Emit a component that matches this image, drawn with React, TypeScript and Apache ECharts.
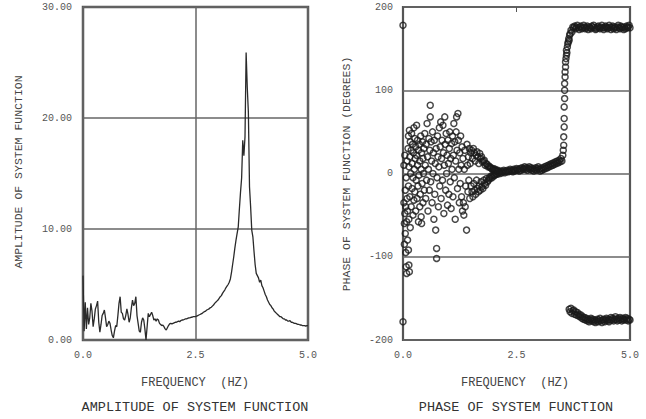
import React, { useEffect, useRef } from "react";
import * as echarts from "echarts";

// ---------- DATA ----------
const xTicks = ["0.0", "2.5", "5.0"];

// Amplitude of system function, sampled every 0.025 Hz from 0 to 5 Hz
const ampStartHz = 0;
const ampStepHz = 0.025;
const amplitude: number[] = [
  5.8, 0.8, 3.4, 1.0, 2.9, 1.4, 2.0, 3.3, 2.6, 1.2,
  1.9, 2.8, 3.1, 3.5, 1.6, 0.7, 1.4, 2.2, 2.4, 2.7,
  2.0, 1.2, 1.4, 1.7, 1.5, 0.9, 0.4, 0.2, 0.8, 1.3,
  1.2, 2.2, 3.3, 3.9, 2.5, 2.4, 1.9, 1.8, 2.2, 2.8,
  2.3, 1.6, 2.0, 2.9, 3.6, 3.1, 3.3, 3.9, 2.2, 1.5,
  0.8, 0.7, 1.6, 2.0, 1.8, 1.0, 0.0, 1.2, 2.4, 2.1,
  2.3, 2.5, 2.2, 1.8, 1.9, 1.7, 1.9, 1.8, 1.5, 1.4,
  1.3, 1.35, 1.2, 1.0, 0.9, 1.1, 1.3, 1.45, 1.5, 1.45,
  1.5, 1.55, 1.6, 1.6, 1.65, 1.7, 1.65, 1.75, 1.8, 1.8,
  1.85, 1.9, 1.9, 1.95, 2.0, 2.0, 2.05, 2.05, 2.1, 2.1,
  2.1, 2.15, 2.2, 2.25, 2.3, 2.35, 2.4, 2.5, 2.55, 2.6,
  2.7, 2.75, 2.8, 2.9, 2.95, 3.05, 3.15, 3.3, 3.4, 3.5,
  3.6, 3.75, 3.9, 4.0, 4.2, 4.35, 4.5, 4.7, 4.85, 5.0,
  5.2, 5.5, 6.1, 6.8, 7.5, 8.3, 9.0, 9.6, 10.2, 11.8,
  13.3, 14.6, 18.0, 16.6, 18.3, 25.9, 22.8, 20.5, 13.8, 12.0,
  9.9, 9.3, 8.0, 6.8, 6.0, 5.8, 5.6, 5.2, 5.4, 4.9,
  4.7, 4.4, 4.1, 3.9, 3.6, 3.4, 3.2, 3.1, 2.9, 2.8,
  2.6, 2.5, 2.4, 2.3, 2.2, 2.1, 2.1, 2.0, 1.9, 1.9,
  1.8, 1.8, 1.7, 1.7, 1.75, 1.6, 1.6, 1.55, 1.5, 1.5,
  1.45, 1.4, 1.4, 1.35, 1.35, 1.3, 1.3, 1.3, 1.25, 1.3,
  1.3,
];

// Phase (degrees): scattered low-frequency region, [Hz, deg]
const phaseNoisy: [number, number][] = [
  [0.0, 178], [0.0, -178],
  [0.02, -35], [0.02, 10], [0.03, -60], [0.03, -85], [0.04, -48], [0.04, 22], [0.05, -72], [0.05, -20],
  [0.06, -95], [0.06, -40], [0.07, -112], [0.07, -5], [0.08, -120], [0.08, -58], [0.09, -30], [0.09, 15],
  [0.1, -80], [0.1, -45], [0.12, -92], [0.13, -110], [0.14, -118],
  [0.11, 30], [0.12, -15], [0.12, 45], [0.13, -55], [0.13, 8], [0.14, 52], [0.15, -28], [0.15, 20],
  [0.16, -65], [0.16, 38], [0.17, 0], [0.18, -40], [0.18, 28], [0.19, 48], [0.2, -18], [0.2, 12],
  [0.21, 35], [0.22, -50], [0.22, -5], [0.23, 25], [0.24, 55], [0.24, -32], [0.25, 5], [0.26, 42],
  [0.26, -22], [0.27, 18], [0.28, -45], [0.28, 32], [0.29, -8], [0.3, 58], [0.3, 22], [0.31, -30],
  [0.32, 10], [0.32, 40], [0.33, -15], [0.34, -58], [0.34, 28], [0.35, -2], [0.36, 35], [0.37, -40],
  [0.37, 15], [0.38, -25], [0.39, 45], [0.4, 5], [0.4, -52], [0.41, -60], [0.41, 25], [0.42, -12],
  [0.43, 38], [0.44, -35], [0.44, 18], [0.45, 0], [0.46, 30], [0.47, -20], [0.48, 48], [0.49, 10],
  [0.5, -30], [0.51, 35], [0.52, -8], [0.53, 60], [0.54, 20], [0.55, -45], [0.56, 5], [0.57, 42],
  [0.58, -20], [0.59, 28], [0.6, 82], [0.6, 68], [0.61, -10], [0.62, 38], [0.63, 15], [0.64, -35],
  [0.65, 50], [0.66, 0], [0.67, 25], [0.68, -55], [0.69, 40], [0.7, -25], [0.71, 12], [0.72, -68],
  [0.73, 30], [0.74, -90], [0.74, -102], [0.75, -5], [0.76, 45], [0.77, 20], [0.78, -40], [0.79, 8],
  [0.8, 55], [0.81, -15], [0.82, 32], [0.83, 62], [0.84, -30], [0.85, 18], [0.86, 40], [0.87, -8],
  [0.88, 58], [0.89, 25], [0.9, -48], [0.91, 10], [0.92, 68], [0.93, 35], [0.94, -20], [0.95, 48],
  [0.96, 0], [0.97, 22], [0.98, -38], [0.99, 40], [1.0, 12], [1.01, -25], [1.02, 30], [1.03, 50],
  [1.04, -10], [1.05, 18], [1.06, -42], [1.07, 36], [1.08, 5], [1.09, 45], [1.1, -28], [1.11, 22],
  [1.12, 60], [1.13, -5], [1.14, 38], [1.15, -55], [1.16, 15], [1.17, 50], [1.18, 68], [1.19, 28],
  [1.2, -18], [1.21, 72], [1.22, 40], [1.23, 5], [1.24, -35], [1.25, 25], [1.26, -12], [1.27, 45],
  [1.28, 10], [1.29, -28], [1.3, 32], [1.31, -45], [1.32, 18], [1.33, -35], [1.34, -50], [1.35, 5],
  [1.36, 28], [1.37, -40], [1.38, -15], [1.4, -68], [1.41, 35], [1.42, 10], [1.43, -22], [1.44, 20],
  [1.45, -8], [1.46, 30], [1.47, -30], [1.48, 12], [1.49, 25], [1.5, -15],
];

// Phase: settling oscillation, every 0.01 Hz from 1.51 Hz
const settleStartHz = 1.51;
const settleStepHz = 0.01;
const phaseSettle: number[] = [
  28, -22, 18, -28, 30, -12, 25, -20, 15, -25,
  22, -8, 26, -18, 20, -22, 12, -15, 24, -20,
  18, -10, 20, -16, 14, -18, 15, -8, 16, -12,
  10, -14, 12, -6, 11, -10, 8, -8, 9, -5,
  8, -6, 7, -3, 6, -5, 5, -2, 6, -3,
  4, -2, 5, -1, 4, 0, 3, -1, 4, 1,
];

// Phase: slowly rising flat part, every 0.02 Hz from 2.12 Hz
const flatStartHz = 2.12;
const flatStepHz = 0.02;
const phaseFlat: number[] = [
  2, 0, 3, 1, 2, 4, 1, 3, 2, 4,
  2, 3, 5, 3, 4, 2, 5, 3, 4, 6,
  4, 5, 3, 6, 4, 7, 5, 6, 8, 5,
  7, 4, 6, 8, 5, 7, 4, 6, 3, 5,
  7, 4, 6, 8, 5, 3, 6, 4, 7, 5,
  8, 6, 9, 7, 10, 8, 11, 9, 12, 10,
  13, 11, 14, 12, 15, 13, 16, 14, 18, 15,
];

// Phase: jump through resonance, [Hz, deg]
const phaseJump: [number, number][] = [
  [3.52, 22], [3.53, 28], [3.54, 34], [3.54, 44], [3.55, 56], [3.55, 66], [3.55, 80], [3.56, 90],
  [3.56, 100], [3.56, 108], [3.57, 116], [3.57, 122], [3.58, 128], [3.58, 134], [3.59, 138],
  [3.6, 142], [3.6, 148], [3.61, 145], [3.62, 152], [3.63, 156], [3.64, 158], [3.65, 162],
  [3.66, 160], [3.67, 166], [3.68, 168], [3.7, 172], [3.72, 170],
];

// Phase above resonance, upper branch, every 0.02 Hz from 3.74 Hz
const upperStartHz = 3.74;
const upperStepHz = 0.02;
const phaseUpper: number[] = [
  176, 175, 177, 174, 176, 178, 175, 173, 176, 177,
  174, 175, 178, 176, 174, 175, 177, 173, 176, 175,
  174, 177, 176, 178, 175, 173, 174, 176, 177, 175,
  174, 176, 178, 175, 173, 175, 177, 176, 174, 175,
  178, 176, 173, 175, 177, 174, 176, 175, 173, 176,
  178, 175, 174, 177, 176, 175, 173, 176, 174, 177,
  175, 176, 178, 175,
];

// Phase above resonance, lower branch, every 0.02 Hz from 3.66 Hz
const lowerStartHz = 3.66;
const lowerStepHz = 0.02;
const phaseLower: number[] = [
  -163, -166, -162, -168, -165, -164, -169, -166, -170, -167,
  -171, -169, -172, -170, -174, -172, -175, -173, -176, -174,
  -177, -175, -178, -176, -174, -177, -175, -178, -176, -179,
  -177, -175, -178, -176, -174, -177, -179, -176, -175, -178,
  -176, -174, -177, -175, -178, -176, -173, -176, -174, -177,
  -175, -172, -175, -177, -174, -176, -173, -175, -177, -174,
  -176, -175, -173, -176, -174, -177, -175, -176,
];

const ampTicks = ["0.00", "10.00", "20.00", "30.00"];
const phaseTicks = ["-200", "-100", "0", "100", "200"];

// ---------- helpers ----------
const onGrid = (start: number, step: number, vals: number[]) =>
  vals.map((v, i) => [+(start + i * step).toFixed(4), v]);

const MONO = "'Liberation Mono', 'DejaVu Sans Mono', monospace";

export default function App() {
  const ref = useRef<HTMLDivElement>(null);

  useEffect(() => {
    if (!ref.current) return;
    const chart = echarts.init(ref.current, undefined, { renderer: "svg" });

    const ampData = onGrid(ampStartHz, ampStepHz, amplitude);
    const phaseData = [
      ...phaseNoisy,
      ...onGrid(settleStartHz, settleStepHz, phaseSettle),
      ...onGrid(flatStartHz, flatStepHz, phaseFlat),
      ...phaseJump,
      ...onGrid(upperStartHz, upperStepHz, phaseUpper),
      ...onGrid(lowerStartHz, lowerStepHz, phaseLower),
    ];

    const tickLabel = { color: "#555", fontFamily: MONO, fontSize: 10 };
    const gridLine = { show: true, lineStyle: { color: "#666", width: 1.5 } };

    chart.setOption({
      animation: false,
      backgroundColor: "#fff",
      grid: [
        { left: 83, right: 338, top: 7, bottom: 79, show: true, borderColor: "#555", borderWidth: 2.5, backgroundColor: "transparent" },
        { left: 403, right: 16, top: 7, bottom: 79, show: true, borderColor: "#555", borderWidth: 2.2, backgroundColor: "transparent" },
      ],
      xAxis: [
        {
          gridIndex: 0, type: "value", min: 0, max: 5, interval: 2.5,
          axisLine: { show: false }, axisTick: { show: false },
          splitLine: gridLine,
          axisLabel: { ...tickLabel, margin: 10, formatter: (v: number) => xTicks[Math.round(v / 2.5)] ?? "" },
        },
        {
          gridIndex: 1, type: "value", min: 0, max: 5, interval: 2.5,
          axisLine: { show: false },
          axisTick: { show: true, inside: true, length: 5, lineStyle: { color: "#555", width: 1 } },
          splitLine: { show: false },
          axisLabel: { ...tickLabel, margin: 10, formatter: (v: number) => xTicks[Math.round(v / 2.5)] ?? "" },
        },
        {
          gridIndex: 1, type: "value", min: 0, max: 5, interval: 2.5, position: "top",
          axisLine: { show: false },
          axisTick: { show: true, inside: true, length: 5, lineStyle: { color: "#555", width: 1 } },
          splitLine: { show: false },
          axisLabel: { show: false },
        },
      ],
      yAxis: [
        {
          gridIndex: 0, type: "value", min: 0, max: 30, interval: 10,
          axisLine: { show: false }, axisTick: { show: false },
          splitLine: gridLine,
          axisLabel: { ...tickLabel, margin: 11, formatter: (v: number) => ampTicks[Math.round(v / 10)] ?? "" },
        },
        {
          gridIndex: 1, type: "value", min: -200, max: 200, interval: 100,
          axisLine: { show: false }, axisTick: { show: false },
          splitLine: gridLine,
          axisLabel: { ...tickLabel, margin: 10, formatter: (v: number) => phaseTicks[Math.round((v + 200) / 100)] ?? "" },
        },
      ],
      series: [
        {
          type: "line", xAxisIndex: 0, yAxisIndex: 0, data: ampData,
          showSymbol: false, symbol: "none", clip: true,
          lineStyle: { color: "#2a2a2a", width: 1.3 },
        },
        {
          type: "scatter", xAxisIndex: 1, yAxisIndex: 1, data: phaseData,
          symbol: "circle", symbolSize: 6, clip: true,
          itemStyle: { color: "rgba(0,0,0,0)", borderColor: "#1a1a1a", borderWidth: 1.5 },
        },
      ],
      graphic: [
        { type: "text", x: 18, y: 172, rotation: Math.PI / 2, style: { text: "AMPLITUDE OF SYSTEM FUNCTION", font: `11.5px ${MONO}`, fill: "#444", textAlign: "center", textVerticalAlign: "middle" } },
        { type: "text", x: 346, y: 174, rotation: Math.PI / 2, style: { text: "PHASE OF SYSTEM FUNCTION (DEGREES)", font: `11.5px ${MONO}`, fill: "#444", textAlign: "center", textVerticalAlign: "middle" } },
        { type: "text", x: 195, y: 383, style: { text: "FREQUENCY  (HZ)", font: `12px ${MONO}`, fill: "#444", textAlign: "center", textVerticalAlign: "middle" } },
        { type: "text", x: 515, y: 383, style: { text: "FREQUENCY  (HZ)", font: `12px ${MONO}`, fill: "#444", textAlign: "center", textVerticalAlign: "middle" } },
        { type: "text", x: 195, y: 407, style: { text: "AMPLITUDE OF SYSTEM FUNCTION", font: `13.5px ${MONO}`, fill: "#333", textAlign: "center", textVerticalAlign: "middle" } },
        { type: "text", x: 516, y: 407, style: { text: "PHASE OF SYSTEM FUNCTION", font: `13.5px ${MONO}`, fill: "#333", textAlign: "center", textVerticalAlign: "middle" } },
      ],
    });

    return () => chart.dispose();
  }, []);

  return (
    <div
      ref={ref}
      style={{ position: "fixed", left: 0, top: 0, width: 646, height: 419, background: "#fff" }}
    />
  );
}
